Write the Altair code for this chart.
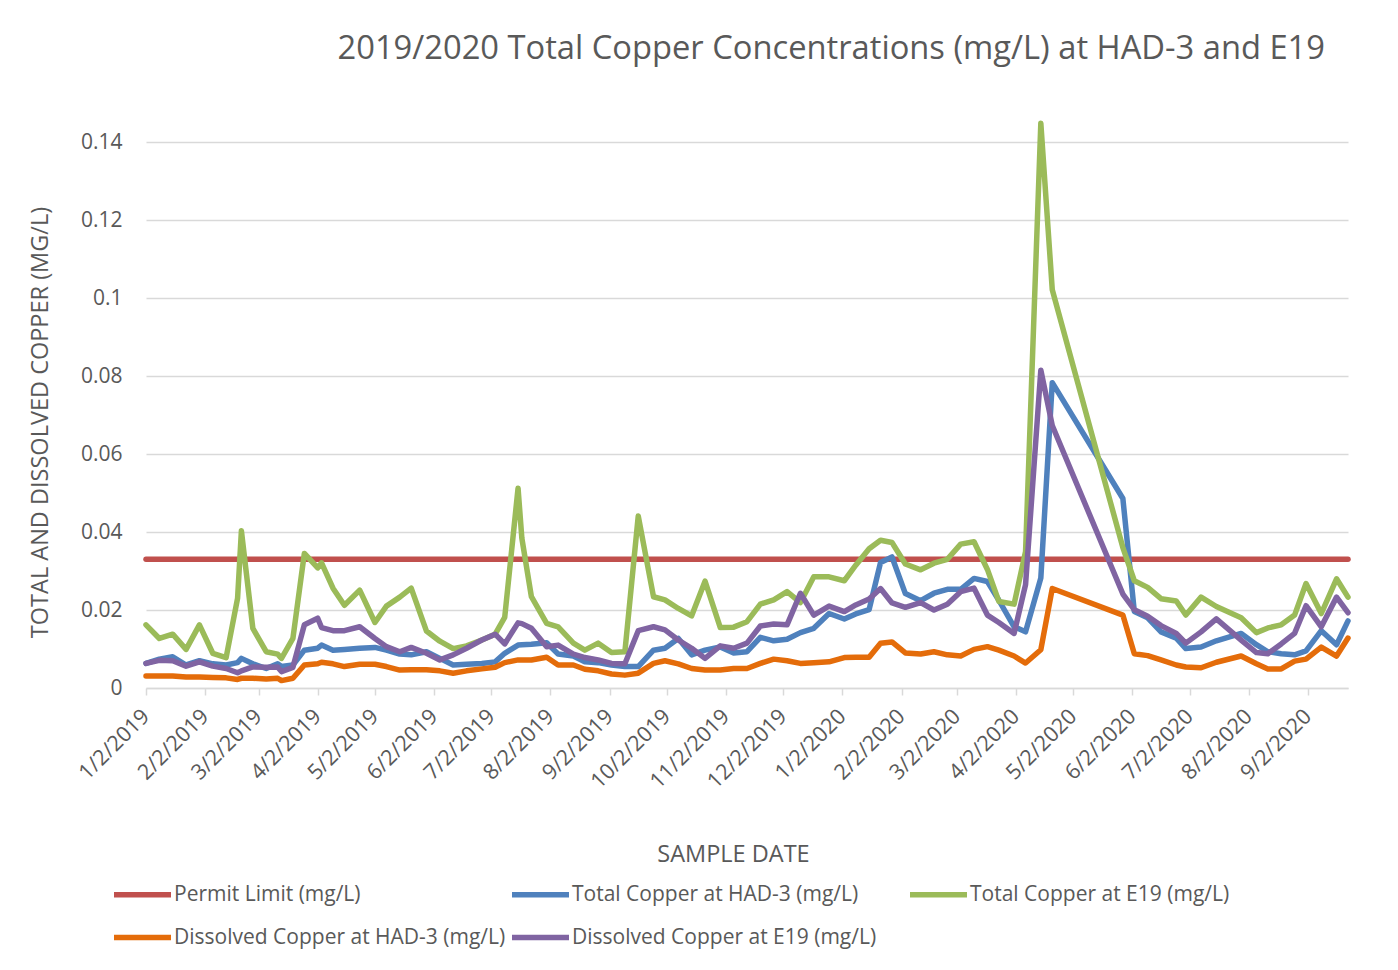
import altair as alt
import pandas as pd

# ---- data ----
sample_dates = [
    "2019-01-02", "2019-01-09", "2019-01-16", "2019-01-23", "2019-01-30",
    "2019-02-06", "2019-02-13", "2019-02-19", "2019-02-21", "2019-02-27",
    "2019-03-06", "2019-03-12", "2019-03-14", "2019-03-20", "2019-03-26",
    "2019-04-02", "2019-04-04", "2019-04-10", "2019-04-16", "2019-04-24",
    "2019-05-02", "2019-05-08", "2019-05-15", "2019-05-21", "2019-05-29",
    "2019-06-05", "2019-06-12", "2019-06-19", "2019-06-27", "2019-07-04",
    "2019-07-09", "2019-07-16", "2019-07-18", "2019-07-23", "2019-07-31",
    "2019-08-06", "2019-08-14", "2019-08-20", "2019-08-27", "2019-09-03",
    "2019-09-10", "2019-09-17", "2019-09-25", "2019-10-01", "2019-10-08",
    "2019-10-15", "2019-10-22", "2019-10-30", "2019-11-06", "2019-11-13",
    "2019-11-20", "2019-11-27", "2019-12-04", "2019-12-11", "2019-12-18",
    "2019-12-26", "2020-01-03", "2020-01-09", "2020-01-16", "2020-01-22",
    "2020-01-28", "2020-02-04", "2020-02-12", "2020-02-19", "2020-02-26",
    "2020-03-04", "2020-03-11", "2020-03-18", "2020-03-24", "2020-04-01",
    "2020-04-07", "2020-04-15", "2020-04-21", "2020-05-28", "2020-06-03",
    "2020-06-10", "2020-06-17", "2020-06-25", "2020-06-30", "2020-07-08",
    "2020-07-16", "2020-07-29", "2020-08-06", "2020-08-12", "2020-08-19",
    "2020-08-26", "2020-09-01", "2020-09-09", "2020-09-17", "2020-09-23",
]

total_had3 = [
    0.0063, 0.0074, 0.0080, 0.0059, 0.0070, 0.0062, 0.0059, 0.0065, 0.0076, 0.0062,
    0.0050, 0.0062, 0.0055, 0.0059, 0.0097, 0.0102, 0.0110, 0.0097, 0.0099, 0.0102,
    0.0104, 0.0097, 0.0087, 0.0085, 0.0093, 0.0076, 0.0059, 0.0061, 0.0063, 0.0067,
    0.0089, 0.0110, 0.0111, 0.0112, 0.0116, 0.0087, 0.0082, 0.0067, 0.0065, 0.0059,
    0.0055, 0.0055, 0.0097, 0.0102, 0.0127, 0.0085, 0.0097, 0.0105, 0.0090, 0.0093,
    0.0130, 0.0121, 0.0125, 0.0142, 0.0153, 0.0191, 0.0177, 0.0190, 0.0201, 0.0322,
    0.0336, 0.0242, 0.0224, 0.0243, 0.0253, 0.0253, 0.0281, 0.0273, 0.0225, 0.0157,
    0.0144, 0.0282, 0.0783, 0.0486, 0.0196, 0.0180, 0.0144, 0.0128, 0.0101, 0.0105,
    0.0121, 0.0140, 0.0111, 0.0093, 0.0088, 0.0085, 0.0095, 0.0147, 0.0111, 0.0172,
]

total_e19 = [
    0.0162, 0.0127, 0.0138, 0.0099, 0.0162, 0.0089, 0.0078, 0.0230, 0.0403, 0.0153,
    0.0093, 0.0087, 0.0076, 0.0127, 0.0345, 0.0308, 0.0321, 0.0256, 0.0212, 0.0251,
    0.0168, 0.0210, 0.0233, 0.0256, 0.0146, 0.0120, 0.0101, 0.0108, 0.0123, 0.0138,
    0.0181, 0.0512, 0.0384, 0.0234, 0.0166, 0.0157, 0.0115, 0.0097, 0.0115, 0.0091,
    0.0093, 0.0441, 0.0234, 0.0226, 0.0204, 0.0185, 0.0274, 0.0155, 0.0156, 0.0170,
    0.0215, 0.0226, 0.0247, 0.0219, 0.0285, 0.0285, 0.0275, 0.0315, 0.0357, 0.0379,
    0.0373, 0.0318, 0.0303, 0.0320, 0.0330, 0.0369, 0.0375, 0.0304, 0.0222, 0.0215,
    0.0350, 0.1448, 0.1021, 0.0360, 0.0275, 0.0258, 0.0229, 0.0223, 0.0187, 0.0233,
    0.0209, 0.0180, 0.0142, 0.0154, 0.0162, 0.0187, 0.0268, 0.0191, 0.0280, 0.0233,
]

dissolved_had3 = [
    0.0031, 0.0031, 0.0031, 0.0028, 0.0028, 0.0027, 0.0026, 0.0022, 0.0025, 0.0025,
    0.0023, 0.0025, 0.0019, 0.0025, 0.0059, 0.0062, 0.0066, 0.0062, 0.0055, 0.0061,
    0.0061, 0.0055, 0.0046, 0.0047, 0.0047, 0.0044, 0.0038, 0.0044, 0.0049, 0.0053,
    0.0065, 0.0072, 0.0072, 0.0072, 0.0079, 0.0059, 0.0059, 0.0048, 0.0044, 0.0036,
    0.0033, 0.0038, 0.0063, 0.0070, 0.0062, 0.0050, 0.0046, 0.0046, 0.0050, 0.0050,
    0.0063, 0.0074, 0.0070, 0.0063, 0.0065, 0.0067, 0.0078, 0.0079, 0.0079, 0.0115,
    0.0118, 0.0090, 0.0087, 0.0093, 0.0085, 0.0082, 0.0099, 0.0106, 0.0097, 0.0082,
    0.0064, 0.0098, 0.0255, 0.0187, 0.0088, 0.0083, 0.0072, 0.0059, 0.0054, 0.0052,
    0.0066, 0.0082, 0.0062, 0.0049, 0.0049, 0.0069, 0.0074, 0.0105, 0.0082, 0.0128,
]

dissolved_e19 = [
    0.0063, 0.0071, 0.0070, 0.0056, 0.0067, 0.0056, 0.0050, 0.0039, 0.0044, 0.0054,
    0.0053, 0.0054, 0.0042, 0.0053, 0.0162, 0.0179, 0.0155, 0.0147, 0.0147, 0.0157,
    0.0127, 0.0106, 0.0093, 0.0104, 0.0089, 0.0072, 0.0085, 0.0102, 0.0123, 0.0138,
    0.0113, 0.0167, 0.0165, 0.0153, 0.0106, 0.0110, 0.0087, 0.0078, 0.0072, 0.0063,
    0.0062, 0.0147, 0.0157, 0.0149, 0.0123, 0.0102, 0.0076, 0.0108, 0.0102, 0.0115,
    0.0159, 0.0164, 0.0162, 0.0243, 0.0187, 0.0210, 0.0196, 0.0213, 0.0228, 0.0255,
    0.0218, 0.0207, 0.0219, 0.0200, 0.0215, 0.0247, 0.0256, 0.0187, 0.0168, 0.0140,
    0.0265, 0.0815, 0.0673, 0.0241, 0.0201, 0.0184, 0.0160, 0.0140, 0.0115, 0.0144,
    0.0177, 0.0123, 0.0091, 0.0088, 0.0113, 0.0140, 0.0211, 0.0157, 0.0233, 0.0193,
]

permit_limit = 0.033

series_names = [
    "Permit Limit (mg/L)",
    "Total Copper at HAD-3 (mg/L)",
    "Total Copper at E19 (mg/L)",
    "Dissolved Copper at HAD-3 (mg/L)",
    "Dissolved Copper at E19 (mg/L)",
]
series_colors = ["#C0504D", "#4F81BD", "#9BBB59", "#E46C0A", "#8064A2"]

# axis ticks: the 2nd of each month, Jan 2019 .. Sep 2020
tick_months = [(2019, m) for m in range(1, 13)] + [(2020, m) for m in range(1, 10)]
y_ticks = [0, 0.02, 0.04, 0.06, 0.08, 0.1, 0.12, 0.14]

# ---- long-form table ----
series_values = [
    [permit_limit] * len(sample_dates),
    total_had3,
    total_e19,
    dissolved_had3,
    dissolved_e19,
]
rows = []
for name, vals in zip(series_names, series_values):
    for d, v in zip(sample_dates, vals):
        rows.append({"date": d, "value": v, "series": name})
df = pd.DataFrame(rows)
df["date"] = pd.to_datetime(df["date"])

TEXT = "#595959"
GRID = "#D9D9D9"
FONT = "Open Sans"

x_enc = alt.X(
    "date:T",
    title="SAMPLE DATE",
    scale=alt.Scale(
        domain=[alt.DateTime(year=2019, month=1, date=2),
                alt.DateTime(year=2020, month=9, date=23)]
    ),
    axis=alt.Axis(
        values=[alt.DateTime(year=y, month=m, date=2) for y, m in tick_months],
        format="%-m/%-d/%Y",
        labelAngle=-45,
        labelAlign="right",
        labelBaseline="middle",
        labelFontSize=21.5,
        labelColor=TEXT,
        labelPadding=18,
        labelOverlap=False,
        tickSize=7,
        tickColor=GRID,
        tickWidth=1.5,
        domainColor=GRID,
        domainWidth=1.5,
        grid=False,
        titleFontSize=23.5,
        titleColor=TEXT,
        titleFontWeight="normal",
        titleX=587,
        titleY=173,
        titleAlign="center",
        titleBaseline="alphabetic",
    ),
)

y_enc = alt.Y(
    "value:Q",
    title="TOTAL AND DISSOLVED COPPER (MG/L)",
    scale=alt.Scale(domain=[0, 0.14], nice=False, zero=True),
    axis=alt.Axis(
        values=y_ticks,
        format="~g",
        domain=False,
        ticks=False,
        grid=True,
        gridColor=GRID,
        gridWidth=1.3,
        labelFontSize=21,
        labelColor=TEXT,
        labelPadding=24,
        titleFontSize=23.5,
        titleColor=TEXT,
        titleFontWeight="normal",
        titleX=-99,
        titleY=280,
        titleAlign="center",
        titleBaseline="alphabetic",
    ),
)

color_enc = alt.Color(
    "series:N",
    scale=alt.Scale(domain=series_names, range=series_colors),
    legend=alt.Legend(
        title=None,
        orient="none",
        legendX=-35,
        legendY=721,
        columns=3,
        direction="horizontal",
        symbolType="stroke",
        symbolSize=3249,
        symbolStrokeWidth=5.5,
        labelFontSize=21,
        labelColor=TEXT,
        labelFont=FONT,
        labelLimit=450,
        labelOffset=0,
        gridAlign="all",
        columnPadding=-5,
        rowPadding=-9,
        padding=0,
    ),
)

layers = []
for name in series_names:
    layers.append(
        alt.Chart(df)
        .transform_filter(alt.datum.series == name)
        .mark_line(strokeWidth=5.5, clip=False, strokeJoin="round", strokeCap="round")
        .encode(x=x_enc, y=y_enc, color=color_enc)
    )

chart = (
    alt.layer(*layers)
    .properties(
        width=1202,
        height=546,
        autosize=alt.AutoSizeParams(type="none"),
        padding={"left": 138, "top": 134, "right": 40, "bottom": 270},
        title=alt.TitleParams(
            text="2019/2020 Total Copper Concentrations (mg/L) at HAD-3 and E19",
            anchor="end",
            frame="group",
            fontSize=32.7,
            font=FONT,
            fontWeight="normal",
            color=TEXT,
            offset=55,
            dx=-23,
        ),
    )
    .configure(font=FONT)
    .configure_view(strokeWidth=0)
)

chart.save("out.html", embed_options={"renderer": "svg", "actions": False})
